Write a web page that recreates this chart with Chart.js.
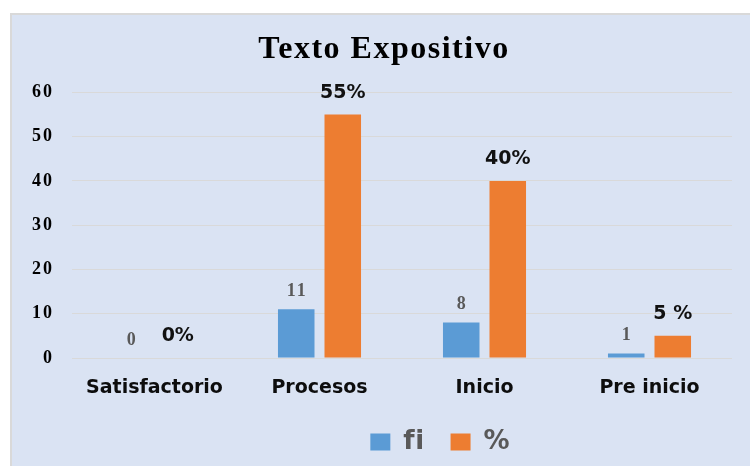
<!DOCTYPE html>
<html>
<head>
<meta charset="utf-8">
<script src="https://cdn.jsdelivr.net/npm/chart.js@4/dist/chart.umd.min.js"></script>
<style>
    html, body { margin: 0; padding: 0; background: #ffffff; width: 750px; height: 466px; overflow: hidden; }
    #frame {
        position: absolute; left: 10px; top: 13px; width: 760px; height: 470px;
        background: #dae3f3; border-top: 2px solid #d9d9d9; border-left: 2px solid #d9d9d9;
    }
    #box { position: absolute; left: 0; top: 0; width: 738px; height: 451px; }
</style>
</head>
<body>
<div id="frame"><div id="box"><canvas id="chart"></canvas></div></div>
<script>
// chart data
const categories = ['Satisfactorio', 'Procesos', 'Inicio', 'Pre inicio'];
const fiValues = [0, 11, 8, 1];
const pctValues = [0, 55, 40, 5];
const pctLabels = ['0%', '55%', '40%', '5 %'];
const yTicks = [0, 10, 20, 30, 40, 50, 60];

const SERIF = '"Liberation Serif", "Times New Roman", serif';
const SANS = '"DejaVu Sans", sans-serif';

// wrap a draw method so it runs with some letter spacing
function spaced(chart, obj, method, spacing) {
    if (!obj || obj['_sp_' + method]) return;
    const orig = obj[method].bind(obj);
    obj[method] = function(area) {
        const c = chart.ctx;
        c.save();
        c.letterSpacing = spacing;
        orig(area);
        c.restore();
    };
    obj['_sp_' + method] = true;
}

// serif text in the original is drawn wide
const textSpacing = {
    id: 'textSpacing',
    afterUpdate(chart) {
        spaced(chart, chart.scales.y, 'drawLabels', '2px');
        spaced(chart, chart.titleBlock, 'draw', '1.5px');
        spaced(chart, chart.legend, 'draw', '0.5px');
    }
};

// draws the numbers above the bars
const barLabels = {
    id: 'barLabels',
    afterDatasetsDraw(chart) {
        const ctx = chart.ctx;
        ctx.save();
        ctx.textAlign = 'center';
        ctx.textBaseline = 'middle';
        chart.data.datasets.forEach((ds, i) => {
            const meta = chart.getDatasetMeta(i);
            meta.data.forEach((bar, j) => {
                if (i === 0) {
                    ctx.letterSpacing = '2px';
                    ctx.font = 'bold 18px ' + SERIF;
                    ctx.fillStyle = '#595959';
                    ctx.fillText(String(ds.data[j]), bar.x + 1, bar.y - 18);
                } else {
                    ctx.letterSpacing = '0px';
                    ctx.font = 'bold 19px ' + SANS;
                    ctx.fillStyle = '#111111';
                    ctx.fillText(pctLabels[j], bar.x, bar.y - 21.5);
                }
            });
        });
        ctx.restore();
    }
};

// nudge legend and title to where the original has them
const boxShift = {
    id: 'boxShift',
    afterLayout(chart) {
        const lg = chart.legend;
        if (lg) {
            lg.left += 67; lg.right += 67;
            lg.top -= 1; lg.bottom -= 1;
        }
        const t = chart.titleBlock;
        if (t) { t.left += 12; t.right += 12; }
    }
};

const ctx = document.getElementById('chart');
new Chart(ctx, {
    type: 'bar',
    data: {
        labels: categories,
        datasets: [
            {
                label: 'fi',
                data: fiValues,
                backgroundColor: '#5b9bd5',
                categoryPercentage: 0.564,
                barPercentage: 0.785
            },
            {
                label: '%',
                data: pctValues,
                backgroundColor: '#ed7d31',
                categoryPercentage: 0.564,
                barPercentage: 0.785
            }
        ]
    },
    options: {
        responsive: true,
        maintainAspectRatio: false,
        animation: false,
        layout: { padding: { left: 0, right: 18, top: 0, bottom: 0 } },
        plugins: {
            title: {
                display: true,
                text: 'Texto Expositivo',
                color: '#000000',
                font: { family: SERIF, size: 32, weight: 'bold' },
                padding: { top: 16, bottom: 23 }
            },
            legend: {
                position: 'bottom',
                labels: {
                    boxWidth: 20,
                    boxHeight: 17,
                    padding: 26,
                    color: '#595959',
                    font: { family: SANS, size: 26, weight: 'bold' }
                }
            },
            tooltip: { enabled: false }
        },
        scales: {
            x: {
                grid: { display: false },
                border: { display: false },
                ticks: {
                    color: '#0d0d0d',
                    padding: 11,
                    font: { family: SANS, size: 19, weight: 'bold' }
                },
                afterFit(scale) { scale.height = 46; }
            },
            y: {
                min: 0,
                max: 60,
                afterBuildTicks(scale) { scale.ticks = yTicks.map(v => ({ value: v })); },
                grid: { color: '#d9d9d9', drawTicks: false },
                border: { display: false },
                ticks: {
                    color: '#000000',
                    padding: 18,
                    font: { family: SERIF, size: 18, weight: 'bold' }
                },
                afterFit(scale) { scale.width = 60; }
            }
        }
    },
    plugins: [textSpacing, barLabels, boxShift]
});
</script>
</body>
</html>
